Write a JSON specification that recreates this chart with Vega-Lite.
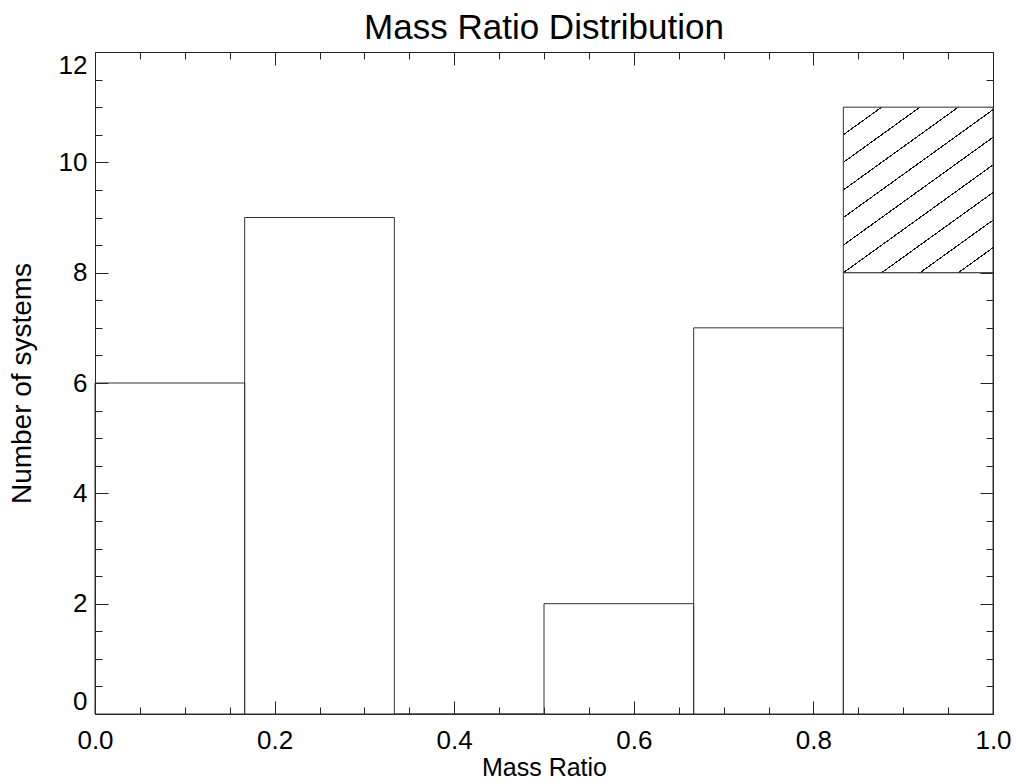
{
  "$schema": "https://vega.github.io/schema/vega-lite/v6.json",
  "width": 898,
  "height": 662,
  "autosize": "none",
  "padding": {"left": 95, "top": 52, "right": 23, "bottom": 70},
  "background": "white",
  "title": {"text": "Mass Ratio Distribution", "fontSize": 35, "font": "Liberation Sans", "fontWeight": "normal", "color": "#000", "offset": 6},
  "config": {
    "view": {"stroke": "#222", "strokeWidth": 1},
    "axis": {"domain": false, "grid": false, "tickColor": "#222", "tickWidth": 1, "labelFont": "Liberation Sans", "titleFont": "Liberation Sans", "labelFontSize": 26, "titleFontSize": 28, "titleFontWeight": "normal", "labelColor": "#000", "titleColor": "#000", "labelOverlap": false}
  },
  "datasets": {
    "bins": [
      {"lo": 0.0, "hi": 0.16667, "n": 6},
      {"lo": 0.16667, "hi": 0.33333, "n": 9},
      {"lo": 0.33333, "hi": 0.5, "n": 0},
      {"lo": 0.5, "hi": 0.66667, "n": 2},
      {"lo": 0.66667, "hi": 0.83333, "n": 7},
      {"lo": 0.83333, "hi": 1.0, "n": 8}
    ],
    "extra": [
      {"lo": 0.83333, "hi": 1.0, "n": 11, "base": 8}
    ]
  },
  "resolve": {"axis": {"x": "independent", "y": "independent"}},
  "layer": [
    {
      "data": {"name": "bins"},
      "mark": {"type": "rect", "fill": "transparent", "stroke": "#333", "strokeWidth": 1},
      "encoding": {
        "x": {"field": "lo", "type": "quantitative", "scale": {"domain": [0, 1], "nice": false, "zero": false},
              "axis": {"orient": "bottom", "values": [0, 0.2, 0.4, 0.6, 0.8, 1.0], "format": ".1f", "tickSize": -13, "labelPadding": 26, "labelFlush": false, "title": "Mass Ratio", "titleFontSize": 25, "titlePadding": 2}},
        "x2": {"field": "hi"},
        "y": {"field": "n", "type": "quantitative", "scale": {"domain": [0, 12], "nice": false},
              "axis": {"orient": "left", "values": [0, 2, 4, 6, 8, 10, 12], "format": "d", "tickSize": -13, "labelPadding": 21, "labelFlush": true, "title": "Number of systems", "titlePadding": 22}},
        "y2": {"datum": 0}
      }
    },
    {
      "data": {"name": "extra"},
      "mark": {"type": "rect", "stroke": "#333", "strokeWidth": 1,
        "fill": {"gradient": "linear", "x1": 0, "y1": 0, "x2": 0.755, "y2": 1.159, "stops": [
          {"offset": 0, "color": "white"},
          {"offset": 0.0985, "color": "white"}, {"offset": 0.0985, "color": "#111"}, {"offset": 0.1035, "color": "#111"}, {"offset": 0.1035, "color": "white"},
          {"offset": 0.1995, "color": "white"}, {"offset": 0.1995, "color": "#111"}, {"offset": 0.2045, "color": "#111"}, {"offset": 0.2045, "color": "white"},
          {"offset": 0.3005, "color": "white"}, {"offset": 0.3005, "color": "#111"}, {"offset": 0.3055, "color": "#111"}, {"offset": 0.3055, "color": "white"},
          {"offset": 0.4015, "color": "white"}, {"offset": 0.4015, "color": "#111"}, {"offset": 0.4065, "color": "#111"}, {"offset": 0.4065, "color": "white"},
          {"offset": 0.5025, "color": "white"}, {"offset": 0.5025, "color": "#111"}, {"offset": 0.5075, "color": "#111"}, {"offset": 0.5075, "color": "white"},
          {"offset": 0.6035, "color": "white"}, {"offset": 0.6035, "color": "#111"}, {"offset": 0.6085, "color": "#111"}, {"offset": 0.6085, "color": "white"},
          {"offset": 0.7045, "color": "white"}, {"offset": 0.7045, "color": "#111"}, {"offset": 0.7095, "color": "#111"}, {"offset": 0.7095, "color": "white"},
          {"offset": 0.8055, "color": "white"}, {"offset": 0.8055, "color": "#111"}, {"offset": 0.8105, "color": "#111"}, {"offset": 0.8105, "color": "white"},
          {"offset": 0.9065, "color": "white"}, {"offset": 0.9065, "color": "#111"}, {"offset": 0.9115, "color": "#111"}, {"offset": 0.9115, "color": "white"},
          {"offset": 1, "color": "white"}
        ]}},
      "encoding": {
        "x": {"field": "lo", "type": "quantitative",
              "axis": {"orient": "bottom", "values": [0.05, 0.1, 0.15, 0.25, 0.3, 0.35, 0.45, 0.5, 0.55, 0.65, 0.7, 0.75, 0.85, 0.9, 0.95], "tickSize": -7, "labels": false, "title": null}},
        "x2": {"field": "hi"},
        "y": {"field": "n", "type": "quantitative",
              "axis": {"orient": "left", "values": [0.5, 1, 1.5, 2.5, 3, 3.5, 4.5, 5, 5.5, 6.5, 7, 7.5, 8.5, 9, 9.5, 10.5, 11, 11.5], "tickSize": -7, "labels": false, "title": null}},
        "y2": {"field": "base"}
      }
    },
    {
      "data": {"name": "bins"},
      "mark": {"type": "rect", "fillOpacity": 0, "strokeOpacity": 0},
      "encoding": {
        "x": {"field": "lo", "type": "quantitative",
              "axis": {"orient": "top", "values": [0, 0.2, 0.4, 0.6, 0.8, 1.0], "tickSize": -13, "labels": false, "title": null}},
        "x2": {"field": "hi"},
        "y": {"field": "n", "type": "quantitative",
              "axis": {"orient": "right", "values": [0, 2, 4, 6, 8, 10, 12], "tickSize": -13, "labels": false, "title": null}},
        "y2": {"datum": 0}
      }
    },
    {
      "data": {"name": "bins"},
      "mark": {"type": "rect", "fillOpacity": 0, "strokeOpacity": 0},
      "encoding": {
        "x": {"field": "lo", "type": "quantitative",
              "axis": {"orient": "top", "values": [0.05, 0.1, 0.15, 0.25, 0.3, 0.35, 0.45, 0.5, 0.55, 0.65, 0.7, 0.75, 0.85, 0.9, 0.95], "tickSize": -7, "labels": false, "title": null}},
        "x2": {"field": "hi"},
        "y": {"field": "n", "type": "quantitative",
              "axis": {"orient": "right", "values": [0.5, 1, 1.5, 2.5, 3, 3.5, 4.5, 5, 5.5, 6.5, 7, 7.5, 8.5, 9, 9.5, 10.5, 11, 11.5], "tickSize": -7, "labels": false, "title": null}},
        "y2": {"datum": 0}
      }
    }
  ]
}
